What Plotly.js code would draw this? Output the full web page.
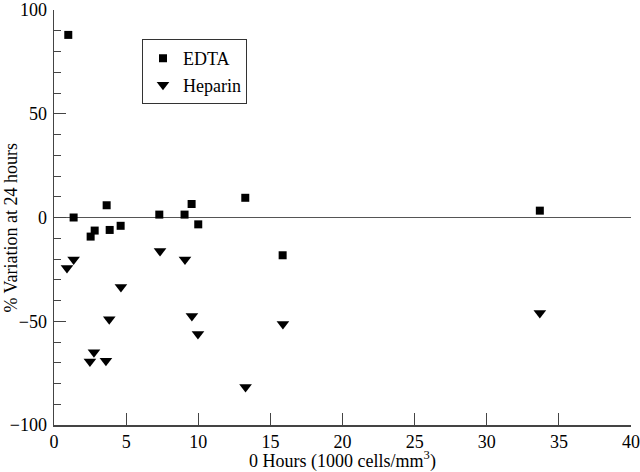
<!DOCTYPE html>
<html>
<head>
<meta charset="utf-8">
<script src="https://cdn.plot.ly/plotly-3.0.1.min.js"></script>
<style>html,body{margin:0;padding:0;background:#fff;}#chart{width:640px;height:472px;}</style>
</head>
<body>
<div id="chart"></div>
<script>
const edtaX = [0.99, 1.36, 2.54, 2.82, 3.65, 3.86, 4.62, 7.30, 9.05, 9.54, 10.0, 13.26, 15.85, 33.68];
const edtaY = [88, 0, -9.2, -6.3, 5.9, -6, -4, 1.4, 1.4, 6.5, -3.3, 9.5, -18.2, 3.3];
const hepX = [0.90, 1.36, 7.35, 9.08, 4.64, 3.83, 9.56, 9.98, 15.87, 2.77, 2.49, 3.60, 13.28, 33.68];
const hepY = [-24.3, -20.3, -16.2, -20.3, -33.5, -49, -47.5, -56.2, -51.3, -64.9, -69.4, -69, -81.7, -46];
const xTicks = [0, 5, 10, 15, 20, 25, 30, 35, 40];
const yTicks = [-100, -50, 0, 50, 100];
const xTitle = '0 Hours (1000 cells/mm<sup>3</sup>)';
const yTitle = '% Variation at 24 hours';

const font = {family: 'Liberation Serif, Times New Roman, serif', size: 18, color: '#000'};

const traces = [
  {x: edtaX, y: edtaY, name: 'EDTA', mode: 'markers', type: 'scatter',
   marker: {symbol: 'square', size: 8, color: '#000'}},
  {x: hepX, y: hepY, name: 'Heparin', mode: 'markers', type: 'scatter',
   marker: {symbol: 'triangle-down', size: 11, color: '#000'}}
];

const layout = {
  width: 640, height: 472,
  margin: {l: 54, r: 9, t: 10, b: 47},
  paper_bgcolor: '#fff', plot_bgcolor: '#fff',
  font: font,
  showlegend: true,
  legend: {x: 0.1525, y: 0.93, xanchor: 'left', yanchor: 'top',
    bordercolor: '#333', borderwidth: 1, bgcolor: '#fff',
    font: font, itemwidth: 30, tracegroupgap: 0},
  xaxis: {range: [0, 40], tickvals: xTicks, ticks: 'inside', ticklen: 12, tickcolor: '#444',
    showline: true, linecolor: '#444', linewidth: 1.5, showgrid: false, zeroline: false,
    tickfont: font, ticklabeloverflow: 'allow',
    title: {text: xTitle, font: font, standoff: 5}},
  yaxis: {range: [-100, 100], tickvals: yTicks, ticks: 'inside', ticklen: 12, tickcolor: '#444',
    showline: true, linecolor: '#444', linewidth: 1.5, showgrid: false,
    zeroline: true, zerolinecolor: '#555', zerolinewidth: 1.2,
    minor: {dtick: 10, tick0: 0, ticks: 'inside', ticklen: 7, tickcolor: '#444', showgrid: false},
    tickfont: font, ticklabeloverflow: 'allow', ticklabelstandoff: 2},
  annotations: [
    {text: yTitle, xref: 'paper', yref: 'paper', x: -0.075, y: 0.475,
     textangle: -90, showarrow: false, font: font, xanchor: 'center', yanchor: 'middle'}
  ]
};

Plotly.newPlot('chart', traces, layout, {displayModeBar: false, staticPlot: true});
</script>
</body>
</html>
